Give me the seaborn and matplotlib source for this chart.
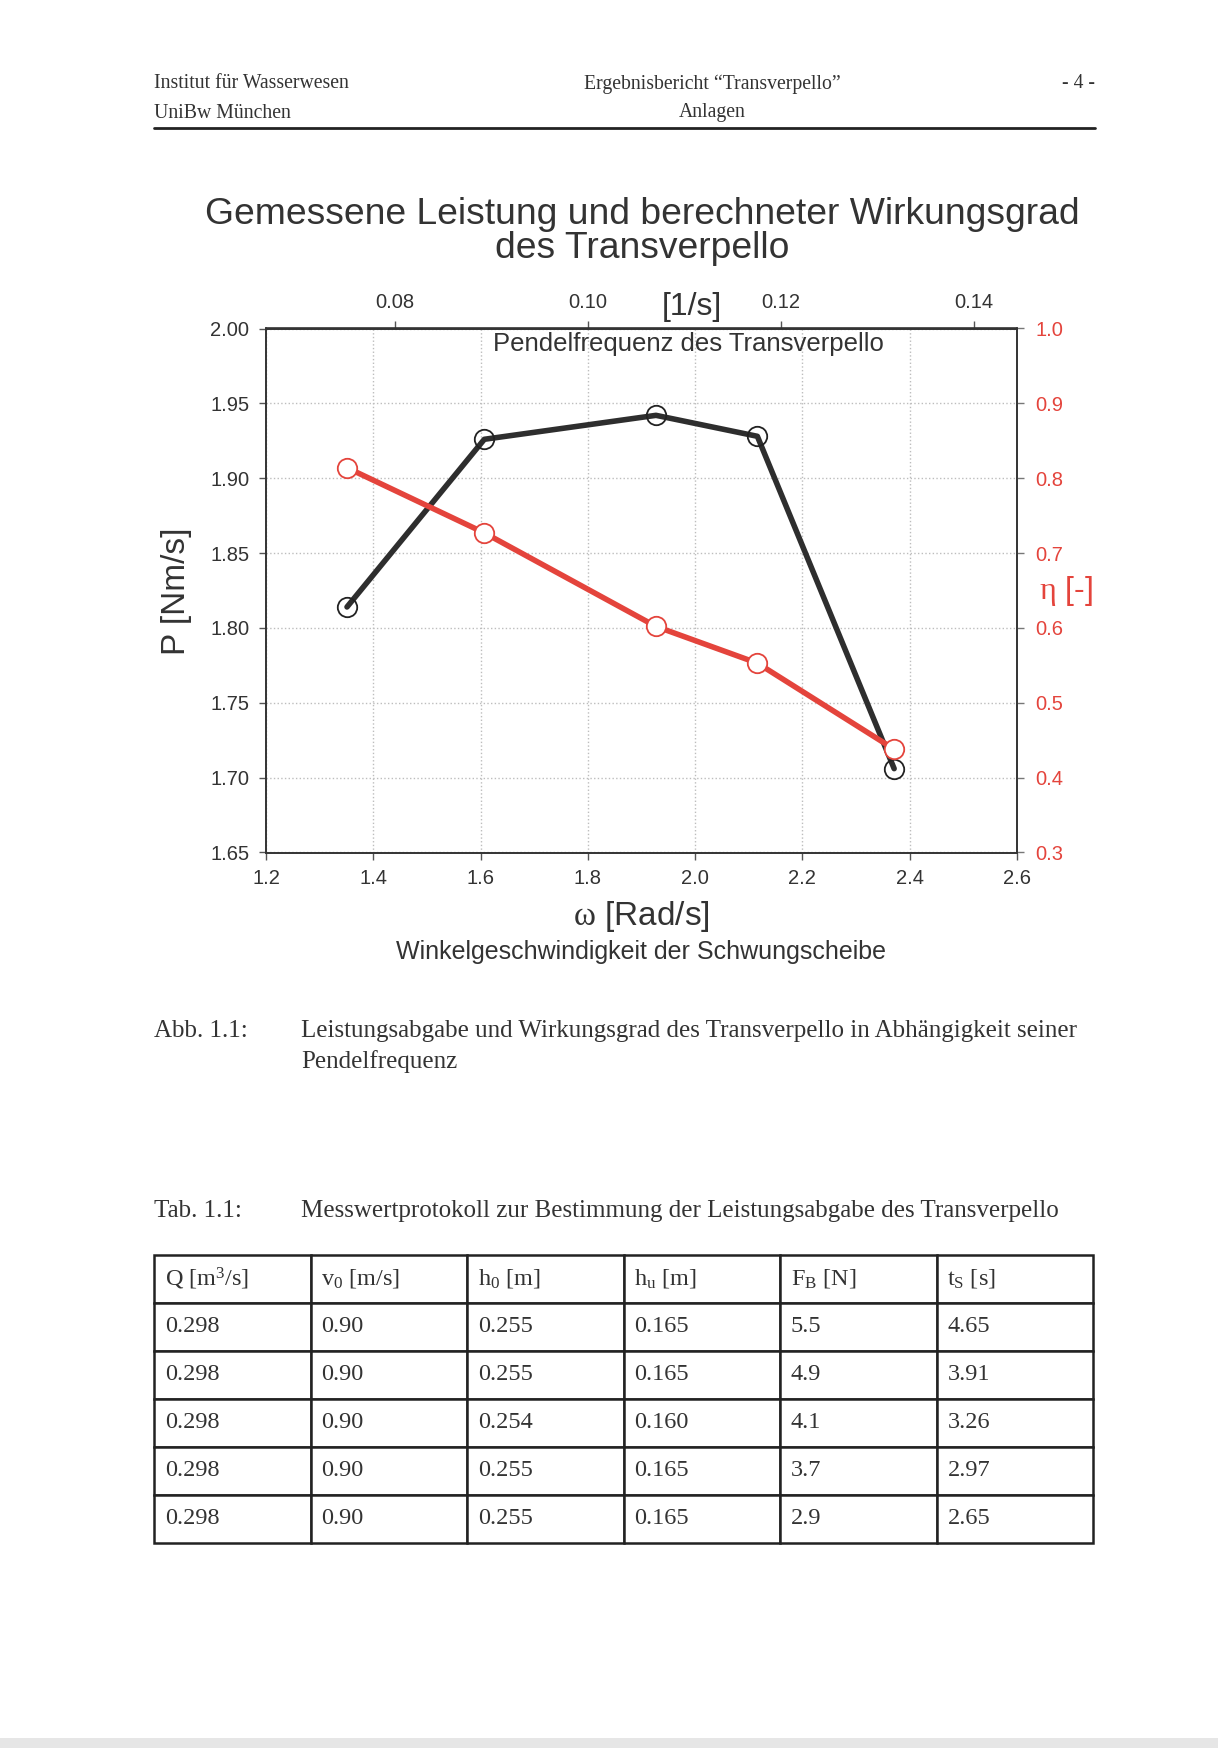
import matplotlib
matplotlib.use("Agg")
import matplotlib.pyplot as plt
import seaborn as sns
import pandas as pd
from matplotlib.ticker import FormatStrFormatter, MultipleLocator
from matplotlib.patches import Rectangle

# measured points (omega of the flywheel, power, efficiency)
omega = [1.351, 1.607, 1.927, 2.116, 2.371]
power = [1.814, 1.926, 1.942, 1.928, 1.706]
eta = [0.814, 0.727, 0.602, 0.553, 0.438]

freq_ticks = [0.08, 0.10, 0.12, 0.14]
OMEGA_PER_F = 18.0  # pendulum frequency -> flywheel omega

# table 1.1
col_headers = ["Q [m$^\\mathrm{3}$/s]", "v$_\\mathrm{0}$ [m/s]", "h$_\\mathrm{0}$ [m]",
               "h$_\\mathrm{u}$ [m]", "F$_\\mathrm{B}$ [N]", "t$_\\mathrm{S}$ [s]"]
q_vals = [0.298, 0.298, 0.298, 0.298, 0.298]
v0_vals = [0.90, 0.90, 0.90, 0.90, 0.90]
h0_vals = [0.255, 0.255, 0.254, 0.255, 0.255]
hu_vals = [0.165, 0.165, 0.160, 0.165, 0.165]
fb_vals = [5.5, 4.9, 4.1, 3.7, 2.9]
ts_vals = [4.65, 3.91, 3.26, 2.97, 2.65]

W, H = 1218, 1748
sns.set_style("white")
plt.rcParams['font.family'] = ['Liberation Sans', 'DejaVu Sans']
plt.rcParams['mathtext.fontset'] = 'custom'
plt.rcParams['mathtext.rm'] = 'Liberation Serif'
plt.rcParams['mathtext.it'] = 'Liberation Serif:italic'

TXT = '#333333'
RED = '#e4443c'
SERIF = ['Liberation Serif', 'DejaVu Serif']


def px(x, y):
    return x / W, 1 - y / H


fig = plt.figure(figsize=(W / 100, H / 100), dpi=100, facecolor='white')

# ---- page header ----
fig.text(*px(154, 84), "Institut für Wasserwesen", family=SERIF, fontsize=14.2, color=TXT, va='center')
fig.text(*px(154, 113), "UniBw München", family=SERIF, fontsize=14.2, color=TXT, va='center')
fig.text(*px(712, 84), "Ergebnisbericht \u201cTransverpello\u201d", family=SERIF, fontsize=14.2,
         color=TXT, va='center', ha='center')
fig.text(*px(712, 113), "Anlagen", family=SERIF, fontsize=14.2, color=TXT, va='center', ha='center')
fig.text(*px(1095, 84), "- 4 -", family=SERIF, fontsize=14.2, color=TXT, va='center', ha='right')
fig.add_artist(plt.Line2D([154 / W, 1095 / W], [1 - 128 / H, 1 - 128 / H], color='#222222', lw=2))

# ---- chart ----
ax = fig.add_axes([266 / W, 1 - 852.5 / H, 751 / W, 524 / H])
df = pd.DataFrame({"omega": omega, "P": power, "eta": eta})

sns.lineplot(data=df, x="omega", y="P", ax=ax, color='#2e2e2e', lw=4, marker='o', markersize=14,
             markerfacecolor='none', markeredgecolor='#222222', markeredgewidth=1.3, errorbar=None)
ax.set_xlim(1.2, 2.6)
ax.set_ylim(1.65, 2.00)
ax.xaxis.set_major_locator(MultipleLocator(0.2))
ax.yaxis.set_major_locator(MultipleLocator(0.05))
ax.xaxis.set_major_formatter(FormatStrFormatter('%.1f'))
ax.yaxis.set_major_formatter(FormatStrFormatter('%.2f'))
ax.grid(True, color='#bdbdbd', linestyle=':', linewidth=1.0)
ax.set_xlabel("")
ax.set_ylabel("")
ax.tick_params(direction='out', length=5, width=1, colors='#555555', labelcolor=TXT,
               labelsize=14.5, pad=7, bottom=True, left=True)

ax2 = ax.twinx()
sns.lineplot(data=df, x="omega", y="eta", ax=ax2, color=RED, lw=4, marker='o', markersize=14,
             markerfacecolor='white', markeredgecolor=RED, markeredgewidth=1.3, errorbar=None)
ax2.set_ylim(0.3, 1.0)
ax2.yaxis.set_major_locator(MultipleLocator(0.1))
ax2.yaxis.set_major_formatter(FormatStrFormatter('%.1f'))
ax2.set_ylabel("")
ax2.tick_params(direction='out', length=5, width=1, colors='#777777', labelcolor=RED,
                labelsize=14.5, pad=8, right=True)

secax = ax.secondary_xaxis('top', functions=(lambda w: w / OMEGA_PER_F, lambda f: f * OMEGA_PER_F))
secax.set_xticks(freq_ticks)
secax.xaxis.set_major_formatter(FormatStrFormatter('%.2f'))
secax.tick_params(direction='out', length=5, width=1, colors='#555555', labelcolor=TXT,
                  labelsize=14.5, pad=7)

for a in (ax, ax2, secax):
    for s in a.spines.values():
        s.set_color('#333333')
        s.set_linewidth(1.2)

fig.text(*px(642, 214), "Gemessene Leistung und berechneter Wirkungsgrad", fontsize=26.8,
         color=TXT, ha='center', va='center')
fig.text(*px(642, 249), "des Transverpello", fontsize=26.8, color=TXT, ha='center', va='center')
fig.text(*px(692, 307), "[1/s]", fontsize=23, color=TXT, ha='center', va='center')
fig.text(*px(688, 344), "Pendelfrequenz des Transverpello", fontsize=18.5, color=TXT,
         ha='center', va='center')
fig.text(*px(176, 591), "P [Nm/s]", fontsize=24, color=TXT, ha='center', va='center', rotation=90)
fig.text(*px(641, 917), r"$\mathrm{\omega}$ [Rad/s]", fontsize=24, color=TXT, ha='center', va='center')
fig.text(*px(641, 952), "Winkelgeschwindigkeit der Schwungscheibe", fontsize=18, color=TXT,
         ha='center', va='center')
fig.text(*px(1066, 591), r"$\mathrm{\eta}$ [-]", fontsize=23, color=RED, ha='center', va='center')

# ---- captions ----
CAP = 18
fig.text(*px(154, 1031), "Abb. 1.1:", family=SERIF, fontsize=CAP, color=TXT, va='center')
fig.text(*px(301, 1031), "Leistungsabgabe und Wirkungsgrad des Transverpello in Abhängigkeit seiner",
         family=SERIF, fontsize=CAP, color=TXT, va='center')
fig.text(*px(301, 1062), "Pendelfrequenz", family=SERIF, fontsize=CAP, color=TXT, va='center')
fig.text(*px(154, 1211), "Tab. 1.1:", family=SERIF, fontsize=CAP, color=TXT, va='center')
fig.text(*px(301, 1211), "Messwertprotokoll zur Bestimmung der Leistungsabgabe des Transverpello",
         family=SERIF, fontsize=CAP, color=TXT, va='center')

# ---- table ----
rows = [[f"{q:.3f}", f"{v:.2f}", f"{h0:.3f}", f"{hu:.3f}", f"{fb:.1f}", f"{ts:.2f}"]
        for q, v, h0, hu, fb, ts in zip(q_vals, v0_vals, h0_vals, hu_vals, fb_vals, ts_vals)]
tab_ax = fig.add_axes([154 / W, 1 - 1543 / H, 939 / W, 288 / H])
tab_ax.axis('off')
tbl = tab_ax.table(cellText=rows, colLabels=col_headers, cellLoc='left', colLoc='left',
                   bbox=[0, 0, 1, 1])
tbl.auto_set_font_size(False)
for cell in tbl.get_celld().values():
    cell.PAD = 0.07
    cell.set_linewidth(1.8)
    cell.set_edgecolor('#222222')
    cell.set_facecolor('white')
    t = cell.get_text()
    t.set_fontsize(17.5)
    t.set_fontfamily(SERIF)
    t.set_color(TXT)

# scan edge at the bottom
fig.add_artist(Rectangle((0, 0), 1, 10 / H, transform=fig.transFigure, color='#e6e6e6', lw=0))

fig.savefig("out.png", dpi=100, facecolor='white')
